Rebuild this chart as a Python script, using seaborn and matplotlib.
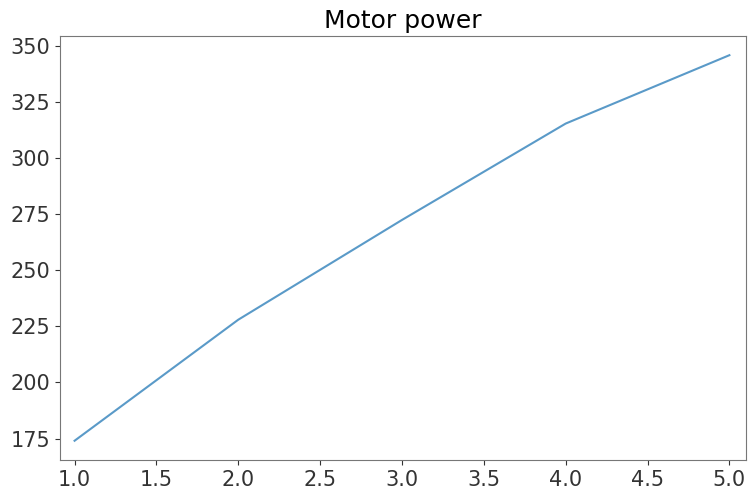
import matplotlib
matplotlib.use('Agg')
import matplotlib.pyplot as plt
import seaborn as sns
import pandas as pd

# motor power readings
steps = [1.0, 2.0, 3.0, 4.0, 5.0]
power = [174.0, 228.0, 272.5, 315.5, 346.0]

df = pd.DataFrame({'step': steps, 'power': power})

fig = plt.figure(figsize=(7.48, 4.92), dpi=100)
ax = fig.add_axes([0.080, 0.065, 0.917, 0.862])

sns.lineplot(data=df, x='step', y='power', ax=ax, color='#5a9ac8', linewidth=1.5)

ax.set_title('Motor power', fontsize=18)
ax.set_xlabel('')
ax.set_ylabel('')
ax.set_xlim(0.91, 5.10)
ax.set_xticks([1.0, 1.5, 2.0, 2.5, 3.0, 3.5, 4.0, 4.5, 5.0])
ax.set_yticks([175, 200, 225, 250, 275, 300, 325, 350])
ax.tick_params(axis='both', labelsize=15, colors='#333333')
for s in ax.spines.values():
  s.set_color('#777777')

fig.savefig('out.png', dpi=100)
